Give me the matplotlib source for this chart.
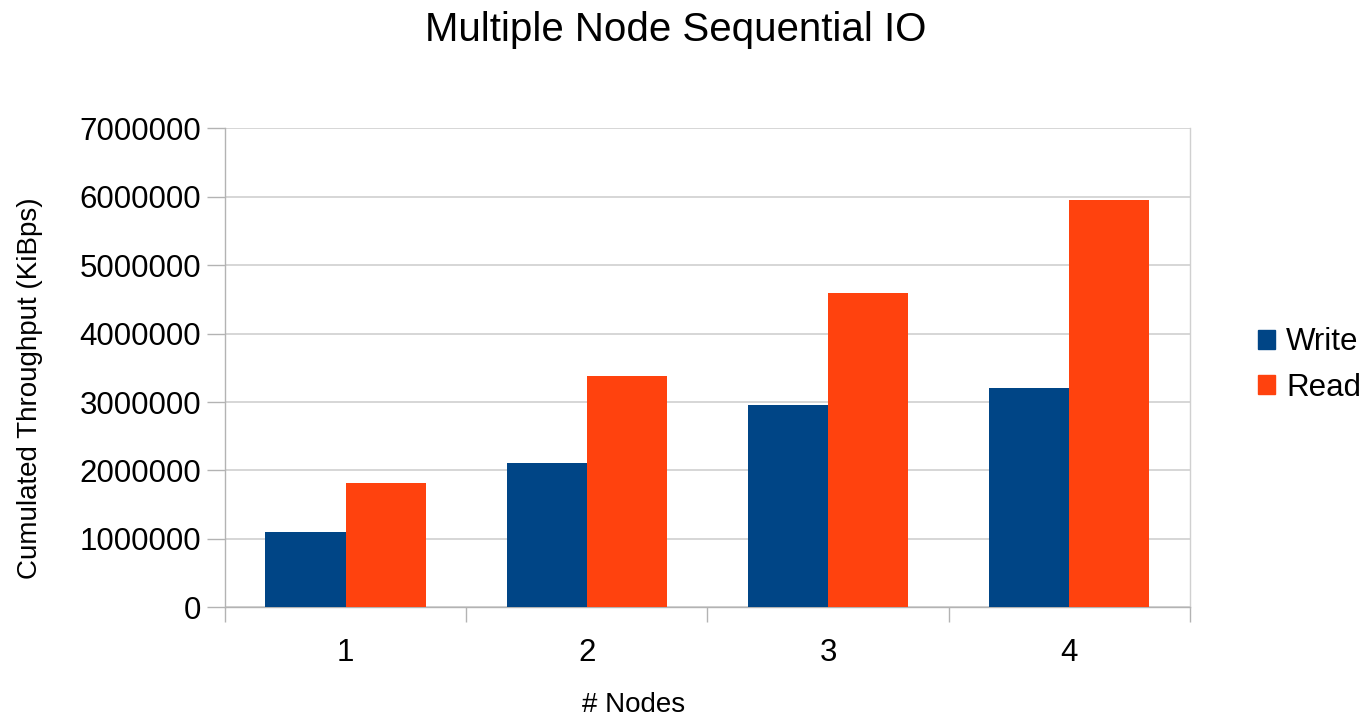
import matplotlib.pyplot as plt
import numpy as np
from matplotlib.patches import Patch

plt.rcParams["font.family"] = ["Liberation Sans", "DejaVu Sans"]

# data
nodes = ["1", "2", "3", "4"]
write = [1095000, 2115000, 2950000, 3200000]
read = [1810000, 3380000, 4590000, 5950000]
yticks = [0, 1000000, 2000000, 3000000, 4000000, 5000000, 6000000, 7000000]

blue = "#004586"
orange = "#ff420e"
grey = "#b3b3b3"

fig = plt.figure(figsize=(13.65, 7.18), dpi=100)
ax = fig.add_axes([0.1648, 0.1542, 0.707, 0.6671])

x = np.arange(len(nodes))
w = 0.332
ax.bar(x - w / 2, write, w, color=blue, label="Write", zorder=3)
ax.bar(x + w / 2, read, w, color=orange, label="Read", zorder=3)

ax.set_xlim(-0.5, len(nodes) - 0.5)
ax.set_ylim(0, 7000000)
ax.set_yticks(yticks)
ax.set_yticklabels([str(v) for v in yticks], fontsize=22.5)
ax.set_xticks(x)
ax.set_xticklabels(nodes, fontsize=22.5)
ax.set_xticks(np.arange(-0.5, len(nodes)), minor=True)

ax.yaxis.grid(True, color="#d0d0d0", linewidth=1.2, zorder=0)
ax.tick_params(axis="y", length=13, width=1, color=grey, pad=4)
ax.tick_params(axis="x", which="major", length=0, pad=22)
ax.tick_params(axis="x", which="minor", length=11, width=1, color=grey)

ax.spines["top"].set_visible(False)
for side in ["left", "right", "bottom"]:
    ax.spines[side].set_color(grey)
    ax.spines[side].set_linewidth(1)
ax.spines["right"].set_color("#d0d0d0")

fig.text(0.495, 0.958, "Multiple Node Sequential IO", fontsize=29,
         ha="center", va="center")
fig.text(0.022, 0.46, "Cumulated Throughput (KiBps)", fontsize=20,
         rotation=90, ha="center", va="center")
fig.text(0.464, 0.018, "# Nodes", fontsize=20, ha="center", va="center")

handles = [Patch(color=blue, label="Write"), Patch(color=orange, label="Read")]
fig.legend(handles=handles, loc="center left", bbox_to_anchor=(0.91, 0.4916),
           frameon=False, fontsize=22.5, handlelength=0.55, handleheight=0.55,
           handletextpad=0.35, labelspacing=0.49, borderpad=0)

fig.savefig("out.png", dpi=100)
